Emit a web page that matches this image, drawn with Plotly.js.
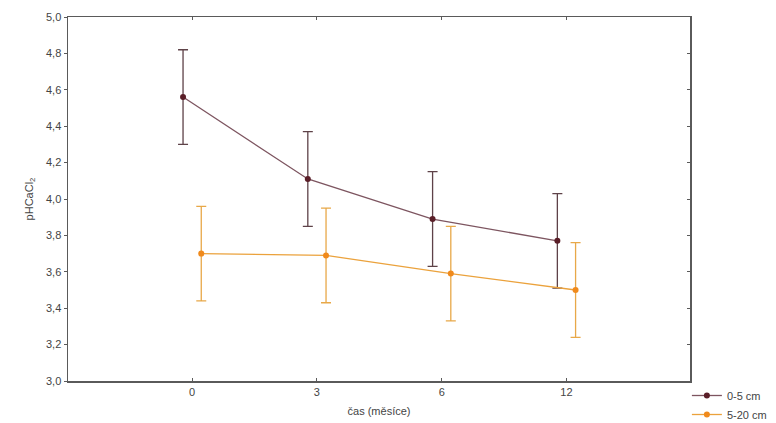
<!DOCTYPE html>
<html>
<head>
<meta charset="utf-8">
<script src="https://cdn.plot.ly/plotly-3.0.1.min.js"></script>
<style>html,body{margin:0;padding:0;background:#fff;}#chart{width:776px;height:423px;}</style>
</head>
<body>
<div id="chart"></div>
<script>
const months = ['0', '3', '6', '12'];
const series1Name = '0-5 cm';
const series1Values = [4.56, 4.11, 3.89, 3.77];
const series1Err = [0.26, 0.26, 0.26, 0.26];
const series2Name = '5-20 cm';
const series2Values = [3.70, 3.69, 3.59, 3.50];
const series2Err = [0.26, 0.26, 0.26, 0.26];

const idx = months.map((m, i) => i);
const off = 0.073;

const t1 = {
  x: idx.map(i => i - off), y: series1Values, name: series1Name,
  type: 'scatter', mode: 'lines+markers',
  line: {color: '#7d5560', width: 1.3},
  marker: {color: '#5a1e28', size: 6},
  error_y: {type: 'data', array: series1Err, visible: true, color: '#5e4248', thickness: 1.3, width: 5}
};
const t2 = {
  x: idx.map(i => i + off), y: series2Values, name: series2Name,
  type: 'scatter', mode: 'lines+markers',
  line: {color: '#eba23c', width: 1.3},
  marker: {color: '#f08a1c', size: 6},
  error_y: {type: 'data', array: series2Err, visible: true, color: '#e8a848', thickness: 1.3, width: 5}
};

const yTicks = [3.0, 3.2, 3.4, 3.6, 3.8, 4.0, 4.2, 4.4, 4.6, 4.8, 5.0];
const yText = ['3,0', '3,2', '3,4', '3,6', '3,8', '4,0', '4,2', '4,4', '4,6', '4,8', '5,0'];

const layout = {
  width: 776, height: 423,
  margin: {l: 68, r: 86, t: 17, b: 42, autoexpand: false},
  paper_bgcolor: '#fff', plot_bgcolor: '#fff',
  font: {family: 'Liberation Sans, Arial, sans-serif', size: 11, color: '#444'},
  showlegend: true,
  legend: {x: 0.995, y: 0.0, xanchor: 'left', yanchor: 'top', font: {size: 11, color: '#444'},
           bgcolor: 'rgba(0,0,0,0)', tracegroupgap: 0, itemwidth: 30},
  xaxis: {
    range: [-0.995, 3.99], tickvals: idx, ticktext: months,
    showgrid: false, zeroline: false, showline: true, linecolor: '#5a5a5a', linewidth: 1.5,
    mirror: 'ticks', ticks: 'inside', ticklen: 3, tickcolor: '#5a5a5a',
    title: {text: 'čas (měsíce)', font: {size: 11, color: '#444'}, standoff: 10}
  },
  yaxis: {
    range: [3.0, 5.0], tickvals: yTicks, ticktext: yText,
    showgrid: false, zeroline: false, showline: true, linecolor: '#5a5a5a', linewidth: 1.5,
    mirror: true, ticks: 'outside', ticklen: 3, tickcolor: '#5a5a5a',
    title: {text: 'pHCaCl<sub>2</sub>', font: {size: 11, color: '#444'}, standoff: 10}
  },
  yaxis2: {
    overlaying: 'y', side: 'right', range: [3.0, 5.0], tickvals: yTicks,
    showticklabels: false, showgrid: false, zeroline: false, showline: false,
    ticks: 'inside', ticklen: 3, tickcolor: '#5a5a5a'
  }
};

const t3 = {x: [null], y: [null], yaxis: 'y2', type: 'scatter', showlegend: false, hoverinfo: 'skip'};

Plotly.newPlot('chart', [t1, t2, t3], layout, {displayModeBar: false, staticPlot: true});
</script>
</body>
</html>
